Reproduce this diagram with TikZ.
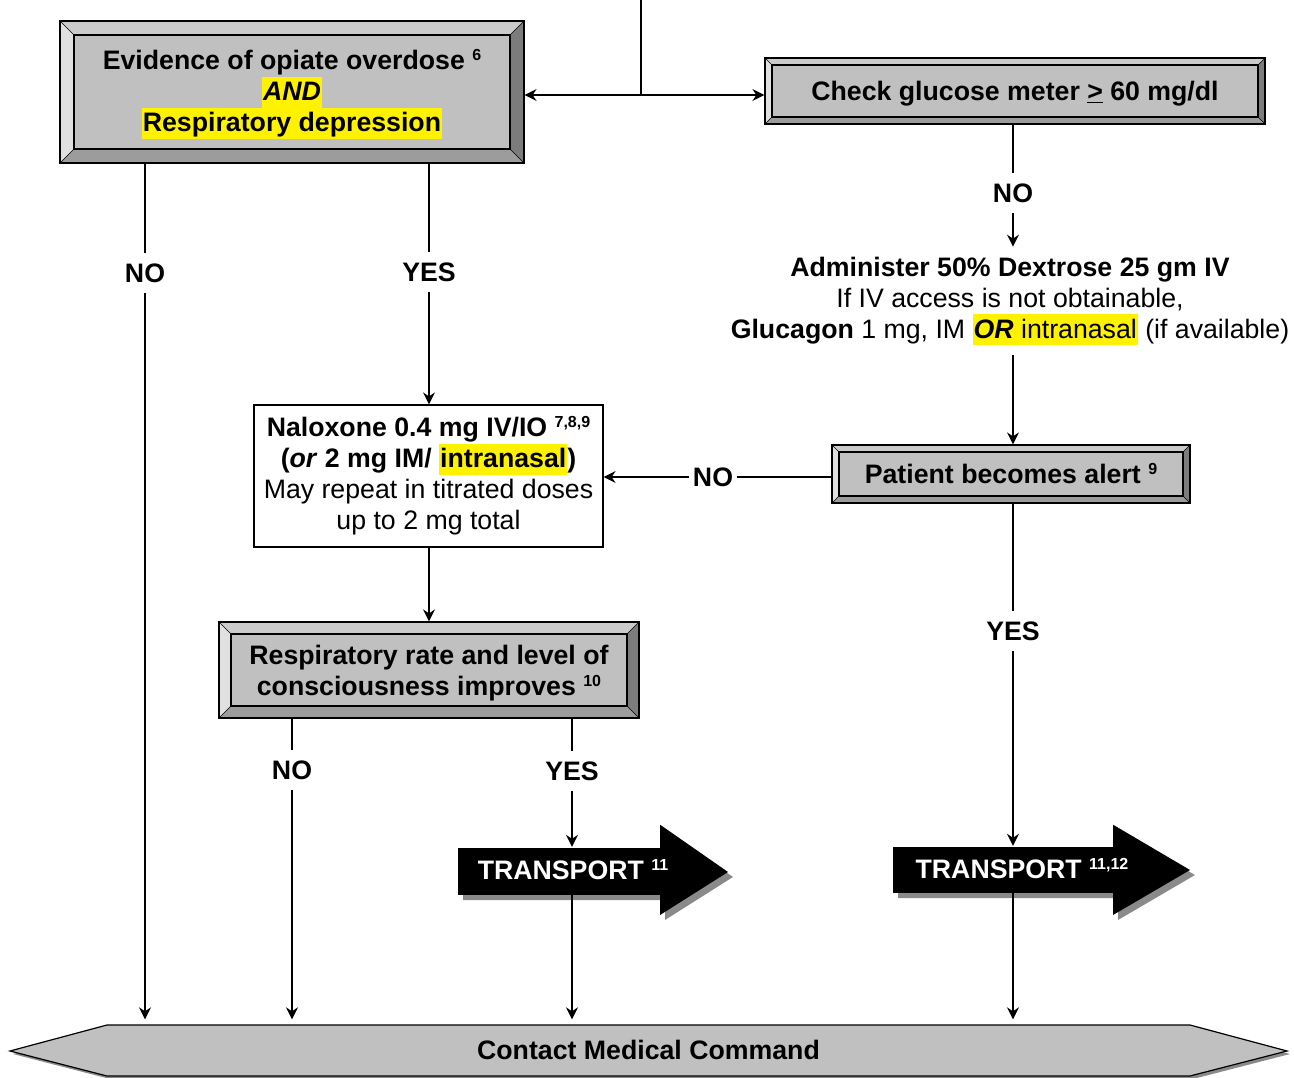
\documentclass[tikz,border=0pt]{standalone}
\usepackage{fontspec}
\setmainfont{Liberation Sans}
\usetikzlibrary{arrows.meta}

\definecolor{facegray}{HTML}{C0C0C0}
\definecolor{bevtop}{HTML}{CBCBCB}
\definecolor{bevleft}{HTML}{E0E0E0}
\definecolor{bevbottom}{HTML}{9C9C9C}
\definecolor{bevright}{HTML}{7C7C7C}
\definecolor{shadowgray}{HTML}{8A8A8A}

\newcommand{\bigf}{\fontsize{26.7}{31}\selectfont}
\newcommand{\hlt}[1]{{\setlength{\fboxsep}{0pt}\colorbox{yellow}{\rule[-7pt]{0pt}{31pt}\kern1pt#1\kern1pt}}}
\newcommand{\ftn}[1]{\raisebox{9pt}{\fontsize{16}{16}\selectfont\bfseries #1}}
\newcommand{\topstrut}{\rule{0pt}{25pt}}

\tikzset{
  conn/.style={line width=1.3pt},
  conna/.style={conn, -{Stealth[length=12pt,width=12pt,inset=4pt]}},
  lbl/.style={font=\bigf\bfseries, inner xsep=4pt, inner ysep=10pt},
  bevelbox/.style={draw, line width=1.2pt, fill=facegray, align=center, font=\bigf\bfseries, inner sep=0pt,
    path picture={
      \coordinate (bnw) at (path picture bounding box.north west);
      \coordinate (bne) at (path picture bounding box.north east);
      \coordinate (bsw) at (path picture bounding box.south west);
      \coordinate (bse) at (path picture bounding box.south east);
      \coordinate (inw) at ([xshift=#1pt,yshift=-#1pt]bnw);
      \coordinate (ine) at ([xshift=-#1pt,yshift=-#1pt]bne);
      \coordinate (isw) at ([xshift=#1pt,yshift=#1pt]bsw);
      \coordinate (ise) at ([xshift=-#1pt,yshift=#1pt]bse);
      \fill[bevtop] (bnw) -- (bne) -- (ine) -- (inw) -- cycle;
      \fill[bevleft] (bnw) -- (bsw) -- (isw) -- (inw) -- cycle;
      \fill[bevbottom] (bsw) -- (bse) -- (ise) -- (isw) -- cycle;
      \fill[bevright] (bne) -- (bse) -- (ise) -- (ine) -- cycle;
      \draw[line width=1.2pt] (inw) rectangle (ise);
      \draw[line width=0.5pt] (bnw) -- (inw) (bne) -- (ine) (bsw) -- (isw) (bse) -- (ise);
    }},
  transtext/.style={text=white, font=\bigf\bfseries, inner sep=0pt}
}

\begin{document}
\begin{tikzpicture}[x=1pt, y=-1pt, font=\bigf]
        \useasboundingbox (0,0) rectangle (1294,1078);

        %decision boxes
        \node[bevelbox=14, minimum width=464pt, minimum height=142pt] (opiate) at (292,92)
            {\topstrut Evidence of opiate overdose \ftn{6}\\ \hlt{\textit{AND}}\\ \hlt{Respiratory depression}};
        \node[bevelbox=7, minimum width=500pt, minimum height=66pt] (glucose) at (1015,91)
            {\topstrut Check glucose meter \underline{>} 60 mg/dl};
        \node[bevelbox=7, minimum width=358pt, minimum height=58pt] (alert) at (1011,474)
            {Patient becomes alert \ftn{9}};
        \node[bevelbox=12, minimum width=420pt, minimum height=96pt] (resp) at (429,670)
            {\topstrut Respiratory rate and level of\\ consciousness improves \ftn{10}};

        %treatment
        \node[draw, line width=1.2pt, fill=white, align=center, inner sep=0pt,
              minimum width=349pt, minimum height=142pt] (naloxone) at (428.5,476)
            {\textbf{Naloxone 0.4 mg IV/IO \ftn{7,8,9}}\\
             \textbf{(\textit{or} 2 mg IM/ \hlt{intranasal})}\\
             May repeat in titrated doses\\ up to 2 mg total};
        \node[align=center, inner xsep=0pt, inner ysep=10pt] (dextrose) at (1010,301)
            {\textbf{Administer 50\% Dextrose 25 gm IV}\\
             If IV access is not obtainable,\\
             \textbf{Glucagon} 1 mg, IM \hlt{\textbf{\textit{OR}} intranasal} (if available)};

        %transport arrows
        \fill[shadowgray] (463,853) -- (665,853) -- (665,830) -- (733,877) -- (665,920) -- (665,900) -- (463,900) -- cycle;
        \node[fill=black, minimum width=202pt, minimum height=47pt, inner sep=0pt] (transA) at (559,871.5) {};
        \fill (transA.north east) -- ++(0,-23) -- (728,872) -- ++(-68,43) -- (transA.south east) -- cycle;
        \node[transtext] (transAtext) at (573,870) {TRANSPORT \ftn{11}};

        \fill[shadowgray] (898,852) -- (1118,852) -- (1118,830) -- (1195,875) -- (1118,920) -- (1118,898) -- (898,898) -- cycle;
        \node[fill=black, minimum width=220pt, minimum height=46pt, inner sep=0pt] (transB) at (1003,870) {};
        \fill (transB.north east) -- ++(0,-22) -- (1190,870) -- ++(-77,45) -- (transB.south east) -- cycle;
        \node[transtext] (transBtext) at (1022,869) {TRANSPORT \ftn{11,12}};

        %medical command
        \fill[shadowgray] (13,1054) -- (110,1028) -- (1193,1028) -- (1290,1054) -- (1193,1079) -- (110,1079) -- cycle;
        \filldraw[fill=facegray, line width=1.2pt] (10,1051) -- (107,1025) -- (1190,1025) -- (1287,1051) -- (1190,1076) -- (107,1076) -- cycle;
        \node[font=\bigf\bfseries, minimum width=1083pt, minimum height=51pt, inner sep=0pt] (cmc) at (648.5,1050)
            {Contact Medical Command};

        %labels
        \node[lbl] (noA) at (145,273) {NO};
        \node[lbl] (yesA) at (429,272) {YES};
        \node[lbl] (noB) at (1013,193) {NO};
        \node[lbl] (noC) at (713,477) {NO};
        \node[lbl] (yesB) at (1013,631) {YES};
        \node[lbl] (noD) at (292,770) {NO};
        \node[lbl] (yesC) at (572,771) {YES};

        %incoming line
        \coordinate (entry) at (641,0);
        \coordinate (split) at (641,95);
        \draw[conn] (entry) -- (split);
        \draw[conna] (split) -- (split -| opiate.east);
        \draw[conna] (split) -- (split -| glucose.west);

        %left branch
        \draw[conn] (opiate.south -| noA) -- (noA);
        \draw[conna] (noA) -- ([yshift=5pt]cmc.north -| noA);
        \draw[conn] (opiate.south -| yesA) -- (yesA);
        \draw[conna] (yesA) -- (naloxone.north -| yesA);
        \draw[conna] (naloxone.south -| yesA) -- (resp.north -| yesA);
        \draw[conn] (resp.south -| noD) -- (noD);
        \draw[conna] (noD) -- ([yshift=5pt]cmc.north -| noD);
        \draw[conn] (resp.south -| yesC) -- (yesC);
        \draw[conna] (yesC) -- ([yshift=1pt]transA.north -| yesC);
        \draw[conna] (transA.south -| yesC) -- ([yshift=5pt]cmc.north -| yesC);

        %right branch
        \draw[conn] (glucose.south -| noB) -- (noB);
        \draw[conna] (noB) -- (dextrose.north -| noB);
        \draw[conna] (dextrose.south -| noB) -- (alert.north -| noB);
        \draw[conn] (alert.west |- noC) -- (noC);
        \draw[conna] (noC) -- (naloxone.east |- noC);
        \draw[conn] (alert.south -| yesB) -- (yesB);
        \draw[conna] (yesB) -- ([yshift=1pt]transB.north -| yesB);
        \draw[conna] (transB.south -| yesB) -- ([yshift=5pt]cmc.north -| yesB);
    \end{tikzpicture}
\end{document}
